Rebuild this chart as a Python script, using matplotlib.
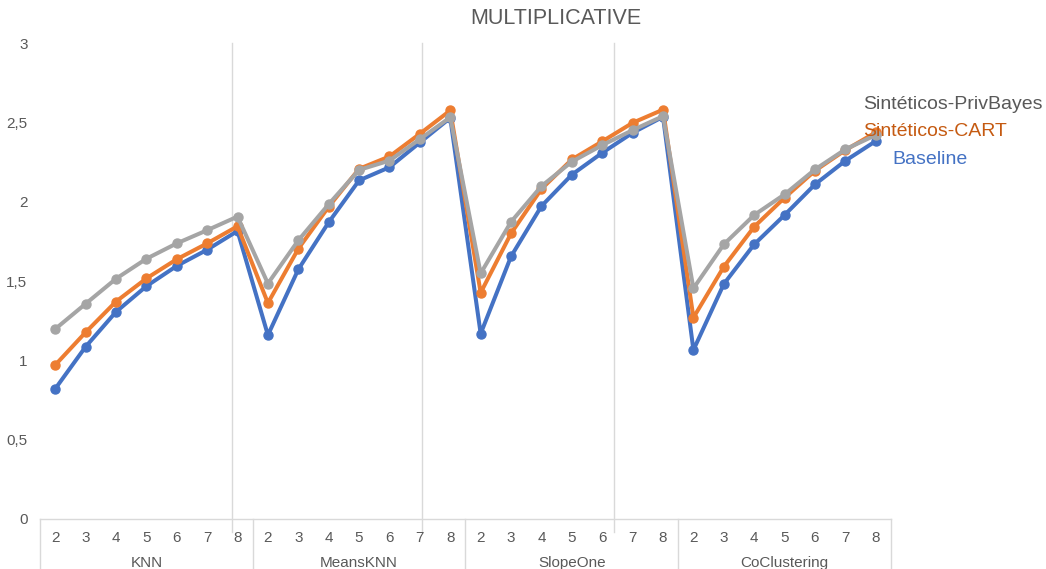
import numpy as np
import matplotlib
matplotlib.use('Agg')
import matplotlib.pyplot as plt
import matplotlib.transforms as mtransforms

plt.rcParams['font.family'] = ['Liberation Sans', 'DejaVu Sans']

groups = ['KNN', 'MeansKNN', 'SlopeOne', 'CoClustering']
ks = ['2', '3', '4', '5', '6', '7', '8']

baseline = [0.820, 1.085, 1.305, 1.467, 1.595, 1.697, 1.815,
            1.159, 1.573, 1.870, 2.134, 2.217, 2.373, 2.528,
            1.168, 1.655, 1.972, 2.170, 2.308, 2.434, 2.535,
            1.065, 1.481, 1.731, 1.916, 2.109, 2.258, 2.382]
cart = [0.970, 1.176, 1.370, 1.516, 1.637, 1.737, 1.845,
        1.361, 1.703, 1.968, 2.207, 2.285, 2.428, 2.575,
        1.426, 1.800, 2.080, 2.266, 2.380, 2.497, 2.580,
        1.269, 1.590, 1.842, 2.025, 2.195, 2.325, 2.437]
privbayes = [1.197, 1.356, 1.514, 1.640, 1.737, 1.820, 1.906,
             1.484, 1.756, 1.984, 2.200, 2.259, 2.394, 2.532,
             1.548, 1.873, 2.098, 2.252, 2.356, 2.451, 2.539,
             1.454, 1.731, 1.916, 2.046, 2.203, 2.330, 2.420]

series_names = ['Sintéticos-PrivBayes', 'Sintéticos-CART', 'Baseline']
line_colors = {'Baseline': '#4472C4', 'Sintéticos-CART': '#ED7D31', 'Sintéticos-PrivBayes': '#A5A5A5'}
text_colors = {'Baseline': '#4472C4', 'Sintéticos-CART': '#C55A11', 'Sintéticos-PrivBayes': '#595959'}

# stray guide lines (data x positions)
guide_x = [5.82, 12.08, 18.40]

fig = plt.figure(figsize=(10.46, 5.69), dpi=100)
ax = fig.add_axes([0.0382, 0.0879, 0.8136, 0.8365])

x = np.arange(len(baseline))
for name, vals in [('Baseline', baseline), ('Sintéticos-CART', cart), ('Sintéticos-PrivBayes', privbayes)]:
    ax.plot(x, vals, color=line_colors[name], lw=2.9, marker='o', ms=6.5, solid_joinstyle='round')

grid_col = '#D9D9D9'
for gx in guide_x:
    ax.plot([gx, gx], [3.0, -0.08], color=grid_col, lw=1, clip_on=False, zorder=0)

ax.set_xlim(-0.5, len(baseline) - 0.5)
ax.set_ylim(0, 3)
ax.set_yticks(np.arange(0, 3.01, 0.5))
ax.set_yticklabels([('%g' % v).replace('.', ',') for v in np.arange(0, 3.01, 0.5)])
ax.tick_params(axis='y', length=0, pad=9, labelsize=11, labelcolor='#595959')

ax.set_xticks(x)
ax.set_xticklabels(ks * len(groups))
ax.tick_params(axis='x', length=0, pad=9, labelsize=11, labelcolor='#595959')

for side in ['top', 'right', 'left']:
    ax.spines[side].set_visible(False)
ax.spines['bottom'].set_color(grid_col)
ax.spines['bottom'].set_linewidth(1)

# category separators and group names below the axis
trans = mtransforms.blended_transform_factory(ax.transData, ax.transAxes)
n = len(ks)
for i in range(len(groups) + 1):
    bx = i * n - 0.5
    ax.plot([bx, bx], [0, -0.2], color=grid_col, lw=1, transform=trans, clip_on=False)
for i, g in enumerate(groups):
    ax.text(i * n + (n - 1) / 2, -0.093, g, transform=trans, ha='center', va='center',
            fontsize=11, color='#595959')

fig.text(0.531, 0.967, 'MULTIPLICATIVE', ha='center', va='center', fontsize=15.5, color='#595959')

legend_pos = {'Sintéticos-PrivBayes': (0.825, 0.817),
              'Sintéticos-CART': (0.825, 0.769),
              'Baseline': (0.853, 0.720)}
for name in series_names:
    lx, ly = legend_pos[name]
    fig.text(lx, ly, name, ha='left', va='center', fontsize=14, color=text_colors[name])

fig.savefig('out.png', dpi=100, facecolor='white')
